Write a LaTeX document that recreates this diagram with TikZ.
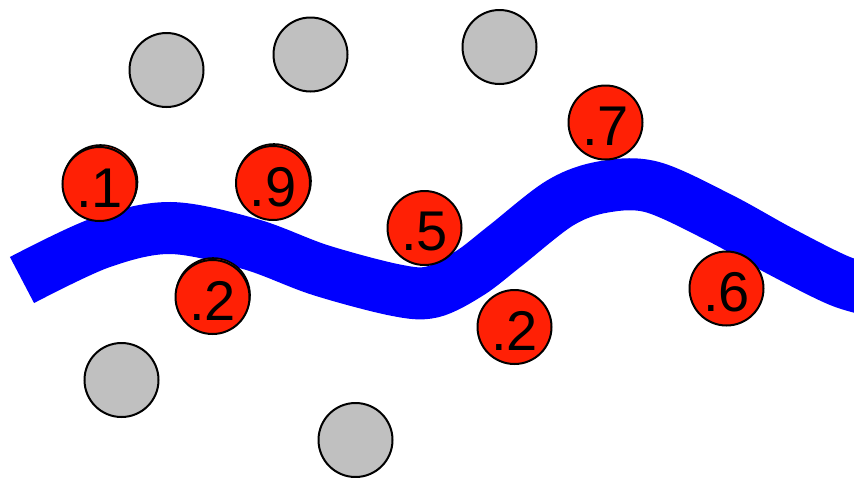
\documentclass[tikz,border=0pt]{standalone}
\usepackage{fontspec}
\setmainfont{Liberation Sans}
\definecolor{ballred}{RGB}{255,32,5}
\definecolor{ballgray}{RGB}{192,192,192}
\definecolor{bandblue}{RGB}{0,0,255}
\begin{document}
\begin{tikzpicture}[x=1pt,y=-1pt,
  ball/.style={circle,draw=black,line width=2pt,minimum size=74pt,inner sep=0pt},
  grayball/.style={ball,fill=ballgray},
  redball/.style={ball,fill=ballred},
  ghost/.style={circle,draw=black,line width=1.6pt,minimum size=74pt,inner sep=0pt,fill=ballred},
  digit/.style={font=\fontsize{56}{56}\selectfont,inner sep=0pt}]
\useasboundingbox (0,0) rectangle (854,477);
\clip (0,0) rectangle (854,477);

% gray balls
\node[grayball] (g1) at (166.5,70) {};
\node[grayball] (g2) at (310.5,54.5) {};
\node[grayball] (g3) at (499.5,47) {};
\node[grayball] (g4) at (121.5,380) {};
\node[grayball] (g5) at (355.5,440) {};

% the blue band
\draw[bandblue,line width=52pt,line cap=butt]
  plot[smooth,tension=0.55] coordinates {(22,280) (100,243) (170,228) (250,244)
  (320,270) (395,290) (432,292) (470,273) (505,246) (560,203) (603,187)
  (652,187) (720,218) (780,251) (840,281) (880,292)};

% red balls (some with a faint second outline)
\node[ghost] at (100.5,182) {};
\node[ghost] at (274,181) {};
\node[ghost] at (213,295) {};
\node[redball] (r1) at (99.5,184) {};
\node[redball] (r9) at (273,183) {};
\node[redball] (r2a) at (212.5,297) {};
\node[redball] (r5) at (424.5,228) {};
\node[redball] (r7) at (605.5,122.5) {};
\node[redball] (r2b) at (514.5,327) {};
\node[redball] (r6) at (726.5,288.5) {};

\node[digit] at ([yshift=-4pt]r1.center) {.1};
\node[digit] at ([yshift=-4pt]r9.center) {.9};
\node[digit] at ([yshift=-4pt]r2a.center) {.2};
\node[digit] at ([yshift=-4pt]r5.center) {.5};
\node[digit] at ([yshift=-4pt]r7.center) {.7};
\node[digit] at ([yshift=-4pt]r2b.center) {.2};
\node[digit] at ([yshift=-4pt]r6.center) {.6};
\end{tikzpicture}
\end{document}
